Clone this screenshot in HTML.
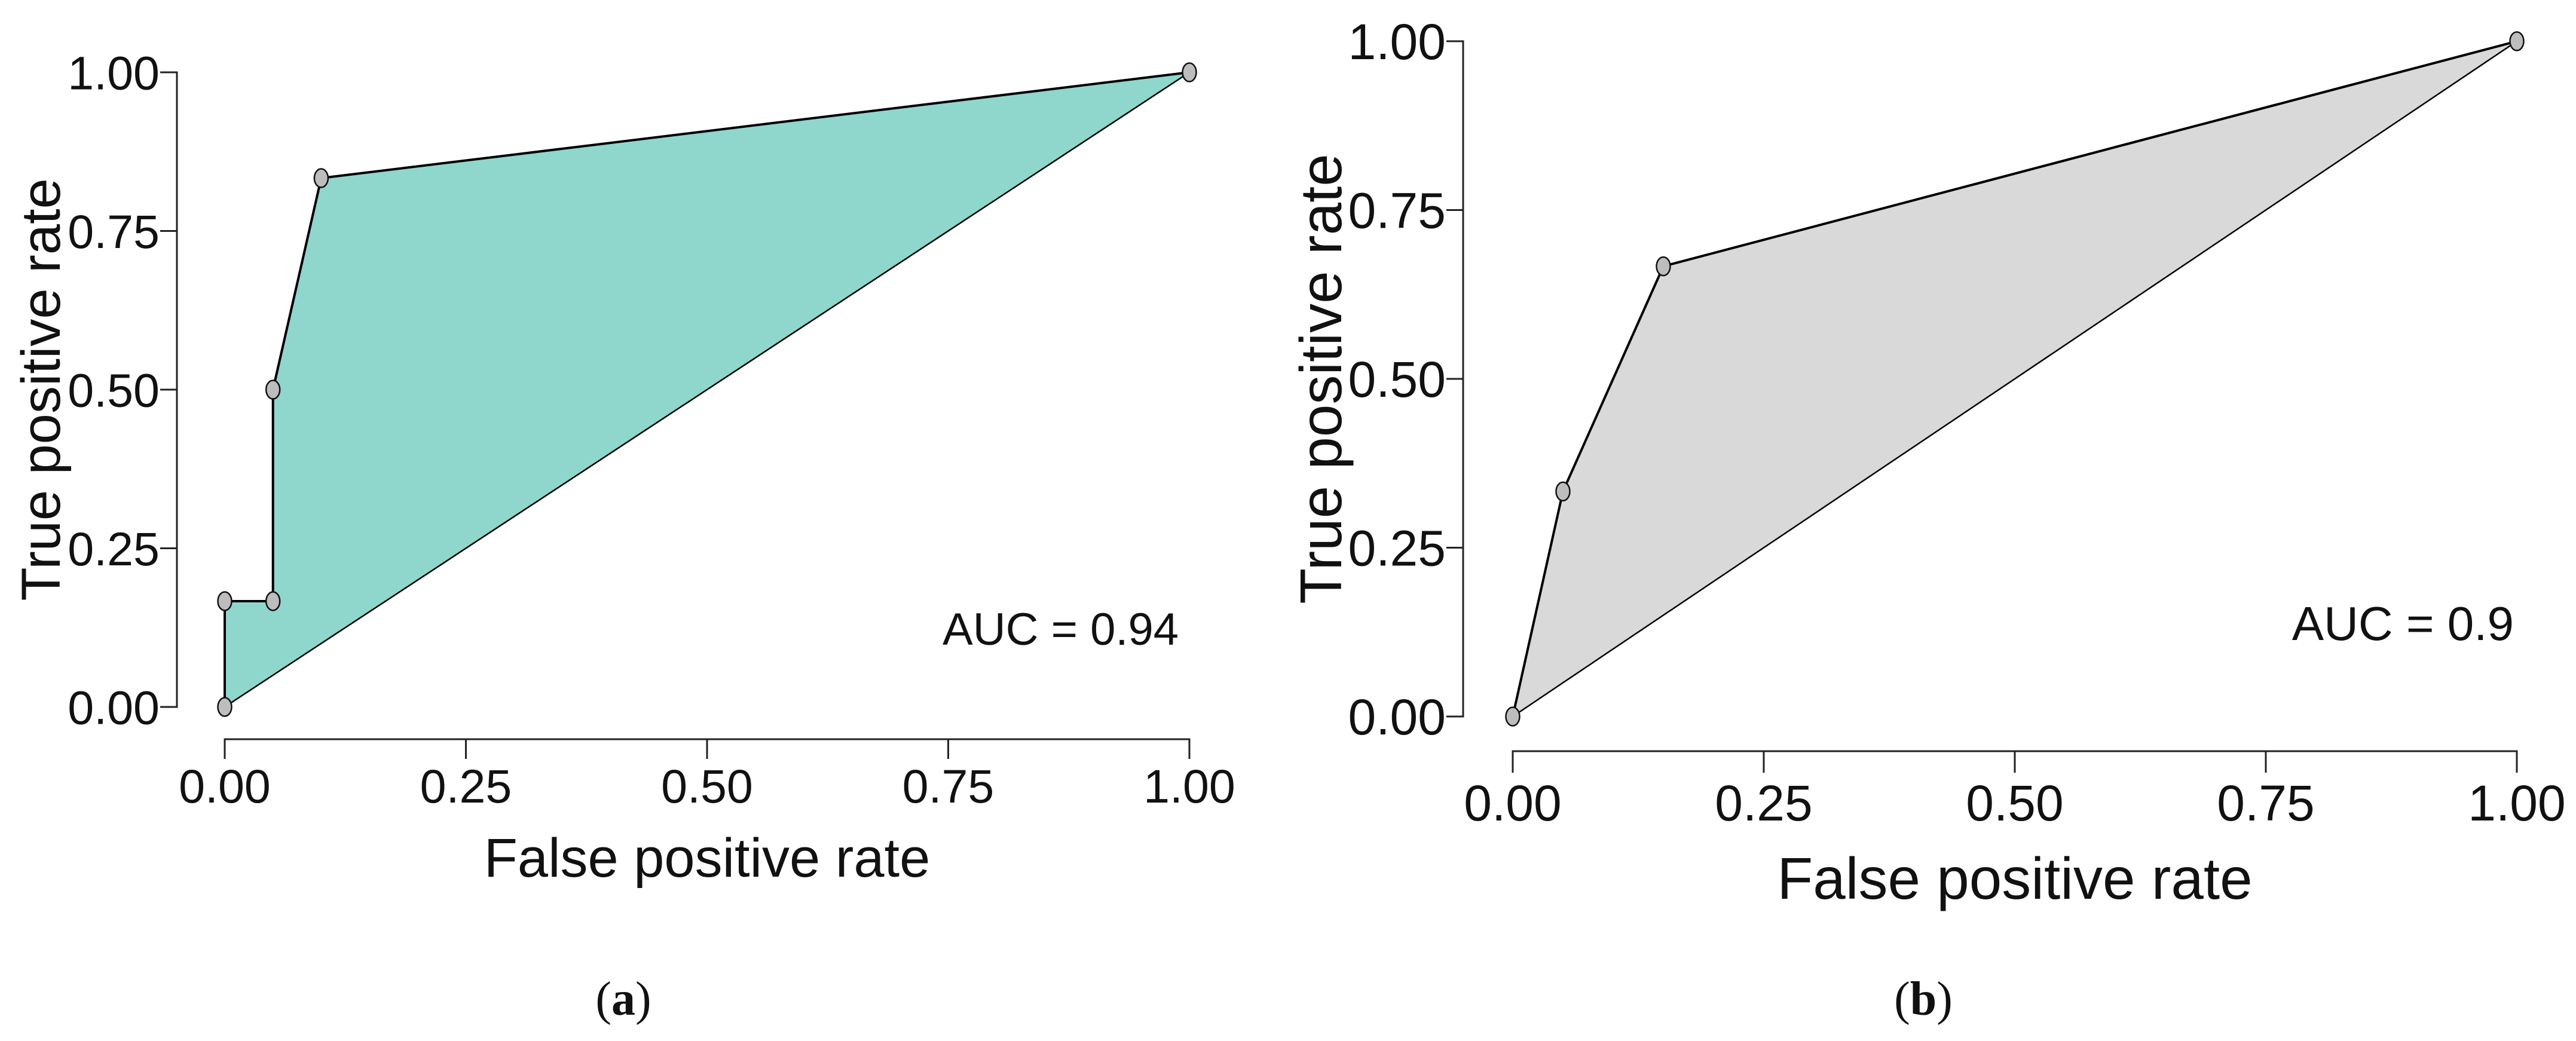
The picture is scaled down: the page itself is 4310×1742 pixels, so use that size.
<!DOCTYPE html>
<html><head><meta charset="utf-8"><style>
html,body{margin:0;padding:0;background:#fff;}
svg{display:block;}
text{font-family:"Liberation Sans",sans-serif;fill:#111;}
</style></head><body>
<svg id="fig" width="4310" height="1742" viewBox="0 0 4310 1742" xmlns="http://www.w3.org/2000/svg">
<rect width="4310" height="1742" fill="#fff"/>
</svg>
<script>
// Panel (a) data
const fprA = [0, 0, 0.05, 0.05, 0.1, 1];
const tprA = [0, 0.1667, 0.1667, 0.5, 0.8333, 1];
const aucA = "AUC = 0.94";
// Panel (b) data
const fprB = [0, 0.05, 0.15, 1];
const tprB = [0, 0.3333, 0.6667, 1];
const aucB = "AUC = 0.9";
const tickVals = [0, 0.25, 0.5, 0.75, 1];
const tickLabels = ["0.00", "0.25", "0.50", "0.75", "1.00"];

const NS = "http://www.w3.org/2000/svg";
const svg = document.getElementById('fig');
function mk(tag, attrs, parent){
  const e = document.createElementNS(NS, tag);
  for (const k in attrs) e.setAttribute(k, attrs[k]);
  (parent||svg).appendChild(e);
  return e;
}

function panel(cfg){
  const g = mk('g', {});
  
  
  const sx = v => cfg.x0 + v*(cfg.x1-cfg.x0);
  const sy = v => cfg.y0 + v*(cfg.y1-cfg.y0);
  // area between curve and diagonal
  let pts = cfg.fpr.map((f,i)=>sx(f)+','+sy(cfg.tpr[i])).join(' ');
  const area = mk('polygon', {points: pts, fill: cfg.fill, stroke:'none'}, g);
  
  
  const diag = mk('line', {x1:sx(0), y1:sy(0), x2:sx(1), y2:sy(1), stroke:'#000', 'stroke-width':2.5}, g);
  
  
  const curve = mk('polyline', {points: pts, fill:'none', stroke:'#000', 'stroke-width':4, 'stroke-linejoin':'round'}, g);
  
  
  cfg.fpr.forEach((f,i)=>{
    const p = mk('ellipse', {cx:sx(f), cy:sy(cfg.tpr[i]), rx:11.5, ry:15.5, fill:'#bdbdbd', stroke:'#111', 'stroke-width':2.5}, g);
    
    
  });
  // y axis
  const ya = mk('line', {x1:cfg.yax, y1:sy(0), x2:cfg.yax, y2:sy(1), stroke:'#222', 'stroke-width':3}, g);
  
  
  tickVals.forEach((v,i)=>{
    const t = mk('line', {x1:cfg.yax-28, y1:sy(v), x2:cfg.yax+1.5, y2:sy(v), stroke:'#222', 'stroke-width':3}, g);
    
    
    const l = mk('text', {x:cfg.yax-29, y:sy(v)+cfg.fs*0.36, 'font-size':cfg.fs, 'text-anchor':'end'}, g);
    l.textContent = tickLabels[i];
    
    
  });
  // x axis
  const xa = mk('line', {x1:sx(0), y1:cfg.xay, x2:sx(1), y2:cfg.xay, stroke:'#222', 'stroke-width':3}, g);
  
  
  tickVals.forEach((v,i)=>{
    const t = mk('line', {x1:sx(v), y1:cfg.xay-1.5, x2:sx(v), y2:cfg.xay+cfg.tl, stroke:'#222', 'stroke-width':3}, g);
    
    
    const l = mk('text', {x:sx(v), y:cfg.xlb, 'font-size':cfg.fs, 'text-anchor':'middle'}, g);
    l.textContent = tickLabels[i];
    
    
  });
  const xt = mk('text', {x:(sx(0)+sx(1))/2, y:cfg.xtb, 'font-size':cfg.tfs, 'text-anchor':'middle'}, g);
  xt.textContent = 'False positive rate';
  
  
  const cy = (sy(0)+sy(1))/2;
  const yt = mk('text', {x:cfg.ytx, y:cy, 'font-size':cfg.tfs, 'text-anchor':'middle', transform:'rotate(-90 '+cfg.ytx+' '+cy+')', 'dominant-baseline':'central'}, g);
  yt.textContent = 'True positive rate';
  
  
  const au = mk('text', {x:cfg.aucx, y:cfg.aucy, 'font-size':cfg.afs, 'text-anchor':'end'}, g);
  au.textContent = cfg.auc;
  
  
  const cap = mk('text', {x:cfg.capx, y:1698, 'font-size':80, 'text-anchor':'middle', style:'font-family:"Liberation Serif",serif'}, g);
  cap.innerHTML = '(<tspan font-weight="bold">'+cfg.cap+'</tspan>)';
  
  
}

panel({name:'panel-a', fpr:fprA, tpr:tprA, auc:aucA, fill:'#8fd6cc',
  x0:376, x1:1990, y0:1183, y1:121, yax:296, xay:1237, tl:33, xlb:1343, xtb:1467,
  fs:79, tfs:92, afs:76, ytx:69, aucx:1972, aucy:1079, capx:1043, cap:'a'});
panel({name:'panel-b', fpr:fprB, tpr:tprB, auc:aucB, fill:'#d9d9d9',
  x0:2531, x1:4211, y0:1199, y1:69, yax:2448, xay:1257, tl:36, xlb:1373, xtb:1504,
  fs:84, tfs:98, afs:80, ytx:2210, aucx:4206, aucy:1071, capx:3218, cap:'b'});
</script>
</body></html>
